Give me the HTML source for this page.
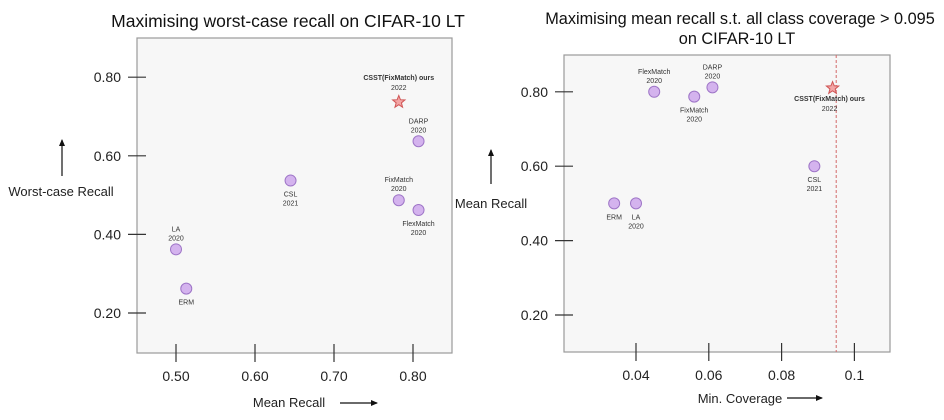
<!DOCTYPE html>
<html><head><meta charset="utf-8">
<style>
html,body{margin:0;padding:0;background:#fff;width:944px;height:420px;overflow:hidden;font-family:"Liberation Sans",Arial,sans-serif}
svg text{font-family:"Liberation Sans",Arial,sans-serif}
</style></head>
<body>
<svg id="svg" width="944" height="420" viewBox="0 0 944 420">
<defs>
<marker id="ah" markerWidth="8" markerHeight="8" refX="6" refY="4" orient="auto" markerUnits="userSpaceOnUse"><path d="M0,1 L7,4 L0,7 z" fill="#111"/></marker>
</defs>
</svg>
<script>
// Left chart data
const leftNames = ["LA","ERM","CSL","FixMatch","FlexMatch","DARP"];
const leftYears = ["2020","","2021","2020","2020","2020"];
const leftX = [0.500,0.513,0.645,0.782,0.807,0.807];
const leftY = [0.362,0.262,0.537,0.487,0.462,0.637];
const leftStarX = [0.782];
const leftStarY = [0.737];
const leftXTicks = [0.5,0.6,0.7,0.8];
const leftXTickLabels = ["0.50","0.60","0.70","0.80"];
const leftYTicks = [0.2,0.4,0.6,0.8];
const leftYTickLabels = ["0.20","0.40","0.60","0.80"];
// Right chart data
const rightNames = ["ERM","LA","FlexMatch","FixMatch","DARP","CSL"];
const rightYears = ["","2020","2020","2020","2020","2021"];
const rightX = [0.034,0.040,0.045,0.056,0.061,0.089];
const rightY = [0.500,0.500,0.800,0.787,0.812,0.600];
const rightStarX = [0.094];
const rightStarY = [0.810];
const rightThreshold = [0.095];
const rightXTicks = [0.04,0.06,0.08,0.1];
const rightXTickLabels = ["0.04","0.06","0.08","0.1"];
const rightYTicks = [0.2,0.4,0.6,0.8];
const rightYTickLabels = ["0.20","0.40","0.60","0.80"];

const svg = document.getElementById('svg');
const NS = 'http://www.w3.org/2000/svg';
function mk(tag, attrs, parent){const e=document.createElementNS(NS,tag);for(const k in attrs)e.setAttribute(k,attrs[k]);(parent||svg).appendChild(e);return e;}
function txt(s,x,y,size,anchor,parent,weight,fill){const t=mk('text',{x:x,y:y,'font-size':size,'text-anchor':anchor||'middle',fill:fill||'#222'},parent);if(weight)t.setAttribute('font-weight',weight);t.textContent=s;return t;}
function starPath(cx,cy,R,r){let d='';for(let i=0;i<10;i++){const a=-Math.PI/2+i*Math.PI/5;const rr=i%2?r:R;d+=(i?'L':'M')+(cx+rr*Math.cos(a)).toFixed(2)+','+(cy+rr*Math.sin(a)).toFixed(2);}return d+'Z';}

function chart(cfg){
  const g=mk('g',{});
  
  
  const sx=v=>cfg.x0px+(v-cfg.x0)*cfg.xs;
  const sy=v=>cfg.y0px-(v-cfg.y0)*cfg.ys;
  const box=mk('rect',{x:cfg.bx,y:cfg.by,width:cfg.bw,height:cfg.bh,fill:'#f7f7f7',stroke:'#9a9a9a','stroke-width':1.2},g);
  
  
  cfg.yt.forEach((v,i)=>{
    const y=sy(v);
    const l=mk('line',{x1:cfg.bx-9,x2:cfg.bx+9,y1:y,y2:y,stroke:'#333','stroke-width':1.2},g);
    
    
    const t=txt(cfg.ytl[i],cfg.bx-16,y+5,14,'end',g,null,'#222');
    
    
  });
  cfg.xt.forEach((v,i)=>{
    const x=sx(v);
    const l=mk('line',{x1:x,x2:x,y1:cfg.by+cfg.bh-9,y2:cfg.by+cfg.bh+9,stroke:'#333','stroke-width':1.2},g);
    
    
    const t=txt(cfg.xtl[i],x,cfg.by+cfg.bh+28,14,'middle',g,null,'#222');
    
    
  });
  if(cfg.thr){cfg.thr.forEach(v=>{
    const l=mk('line',{x1:sx(v),x2:sx(v),y1:cfg.by,y2:cfg.by+cfg.bh,stroke:'#d46a6a','stroke-width':1,'stroke-dasharray':'3,2'},g);
    
    
  });}
  cfg.px.forEach((v,i)=>{
    const cx=sx(v),cy=sy(cfg.py[i]);
    const c=mk('circle',{cx:cx,cy:cy,r:5.5,fill:'#d4b3ee',stroke:'#9e75c7','stroke-width':1},g);
    
    
    const pos=cfg.lp[i];
    let ly=pos==='a'?cy-18:cy+16;
    if(pos==='a'&&!cfg.years[i])ly=cy-10;
    const t1=txt(cfg.names[i],cx+(cfg.lo?cfg.lo[i]:0),ly,7,'middle',g,null,'#333');
    
    
    if(cfg.years[i]){const t2=txt(cfg.years[i],cx+(cfg.lo?cfg.lo[i]:0),ly+9,7,'middle',g,null,'#333');
      
      }
  });
  cfg.sxv.forEach((v,i)=>{
    const cx=sx(v),cy=sy(cfg.syv[i]);
    const s=mk('path',{d:starPath(cx,cy,6.5,2.8),fill:'#f3a5a5',stroke:'#d05555','stroke-width':1},g);
    
    
    const ly=cfg.starLabelBelow?cy+13:cy-22;
    const t1=txt('CSST(FixMatch) ours',cx+cfg.starDx,ly,7,'middle',g,'bold','#333');
    
    
    const t2=txt('2022',cx+cfg.starDx2,ly+10,7,'middle',g,null,'#333');
    
    
  });
}

chart({name:'left-chart',bx:137,by:38,bw:315,bh:315,x0:0.5,x0px:176,xs:790,y0:0.2,y0px:313,ys:393,
  xt:leftXTicks,xtl:leftXTickLabels,yt:leftYTicks,ytl:leftYTickLabels,
  px:leftX,py:leftY,names:leftNames,years:leftYears,lp:['a','b','b','a','b','a'],
  sxv:leftStarX,syv:leftStarY,starDx:0,starDx2:0,starLabelBelow:false});
chart({name:'right-chart',bx:564,by:55,bw:326,bh:297,x0:0.04,x0px:636,xs:3640,y0:0.2,y0px:315,ys:372,
  xt:rightXTicks,xtl:rightXTickLabels,yt:rightYTicks,ytl:rightYTickLabels,
  px:rightX,py:rightY,names:rightNames,years:rightYears,lp:['b','b','a','b','a','b'],
  thr:rightThreshold,sxv:rightStarX,syv:rightStarY,starDx:-3,starDx2:-3,starLabelBelow:true});

// Titles & axis labels
let t;
t=txt('Maximising worst-case recall on CIFAR-10 LT',288,27,17.5,'middle',svg,null,'#111');


t=txt('Maximising mean recall s.t. all class coverage > 0.095',740,24,16.3,'middle',svg,null,'#111');


t=txt('on CIFAR-10 LT',737,44,16.3,'middle',svg,null,'#111');


t=txt('Worst-case Recall',61,196,13,'middle',svg,null,'#222');


t=txt('Mean Recall',289,407,13,'middle',svg,null,'#222');


t=txt('Mean Recall',491,208,13,'middle',svg,null,'#222');


t=txt('Min.  Coverage',740,403,13,'middle',svg,null,'#222');


let a;
a=mk('line',{x1:62,y1:176,x2:62,y2:140,stroke:'#111','stroke-width':1.2,'marker-end':'url(#ah)'});


a=mk('line',{x1:340,y1:403,x2:377,y2:403,stroke:'#111','stroke-width':1.2,'marker-end':'url(#ah)'});


a=mk('line',{x1:491,y1:184,x2:491,y2:150,stroke:'#111','stroke-width':1.2,'marker-end':'url(#ah)'});


a=mk('line',{x1:787,y1:398,x2:822,y2:398,stroke:'#111','stroke-width':1.2,'marker-end':'url(#ah)'});


</script>
</body></html>
